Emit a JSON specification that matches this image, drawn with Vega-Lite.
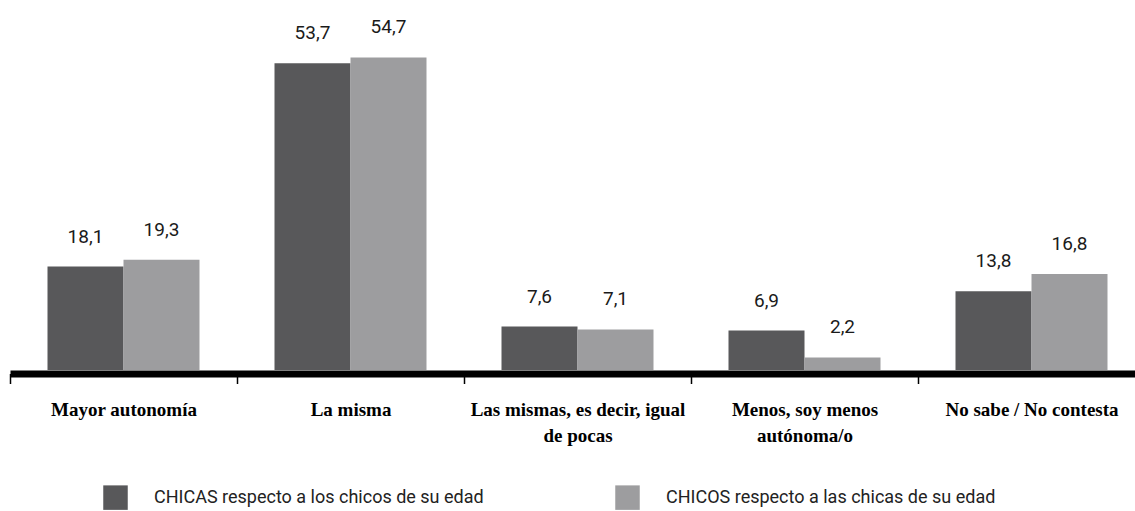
{
  "$schema": "https://vega.github.io/schema/vega-lite/v6.json",
  "width": 1125,
  "height": 360,
  "autosize": {"type": "none"},
  "padding": {"left": 10, "top": 10, "right": 0, "bottom": 141},
  "config": {
    "view": {"stroke": null},
    "locale": {"number": {"decimal": ",", "thousands": ".", "grouping": [3], "currency": ["", " €"]}}
  },
  "data": {
    "values": [
      {"categoria": "Mayor autonomía", "serie": "CHICAS respecto a los chicos de su edad", "valor": 18.1},
      {"categoria": "Mayor autonomía", "serie": "CHICOS respecto a las chicas de su edad", "valor": 19.3},
      {"categoria": "La misma", "serie": "CHICAS respecto a los chicos de su edad", "valor": 53.7},
      {"categoria": "La misma", "serie": "CHICOS respecto a las chicas de su edad", "valor": 54.7},
      {"categoria": "Las mismas, es decir, igual|de pocas", "serie": "CHICAS respecto a los chicos de su edad", "valor": 7.6},
      {"categoria": "Las mismas, es decir, igual|de pocas", "serie": "CHICOS respecto a las chicas de su edad", "valor": 7.1},
      {"categoria": "Menos, soy menos|autónoma/o", "serie": "CHICAS respecto a los chicos de su edad", "valor": 6.9},
      {"categoria": "Menos, soy menos|autónoma/o", "serie": "CHICOS respecto a las chicas de su edad", "valor": 2.2},
      {"categoria": "No sabe / No contesta", "serie": "CHICAS respecto a los chicos de su edad", "valor": 13.8},
      {"categoria": "No sabe / No contesta", "serie": "CHICOS respecto a las chicas de su edad", "valor": 16.8}
    ]
  },
  "encoding": {
    "x": {
      "field": "categoria",
      "type": "nominal",
      "sort": null,
      "scale": {"range": [0, 1135], "paddingInner": 0.3304, "paddingOuter": 0.1652},
      "axis": {
        "title": null,
        "domainColor": "black",
        "domainWidth": 7,
        "offset": 3.5,
        "tickColor": "black",
        "tickWidth": 1.5,
        "tickSize": 10,
        "tickOffset": -113.5,
        "labelOffset": 113.5,
        "labelFont": "Liberation Serif",
        "labelFontWeight": "bold",
        "labelFontSize": 19,
        "labelColor": "black",
        "labelPadding": 17,
        "labelLineHeight": 26,
        "labelAngle": 0,
        "labelLimit": 400,
        "labelExpr": "split(datum.label, '|')"
      }
    },
    "xOffset": {"field": "serie", "type": "nominal", "sort": null, "scale": {"paddingInner": 0, "paddingOuter": 0}},
    "y": {"field": "valor", "type": "quantitative", "scale": {"domain": [0, 63], "nice": false}, "axis": null}
  },
  "layer": [
    {
      "mark": {"type": "bar"},
      "encoding": {
        "color": {
          "field": "serie",
          "type": "nominal",
          "sort": null,
          "scale": {"range": ["#58585a", "#9d9d9f"]},
          "legend": {
            "title": null,
            "orient": "none",
            "legendX": 93,
            "legendY": 475,
            "direction": "horizontal",
            "symbolType": "square",
            "symbolSize": 600,
            "symbolStrokeWidth": 0,
            "symbolOpacity": 1,
            "labelFont": "Roboto",
            "labelFontSize": 18,
            "labelColor": "#222222",
            "labelOffset": 26,
            "columnPadding": 131,
            "padding": 0,
            "labelLimit": 600
          }
        }
      }
    },
    {
      "mark": {"type": "text", "baseline": "alphabetic", "dy": -24, "font": "Roboto", "fontSize": 19, "color": "#1a1a1a"},
      "encoding": {"text": {"field": "valor", "type": "quantitative", "format": ".1f"}}
    }
  ]
}
